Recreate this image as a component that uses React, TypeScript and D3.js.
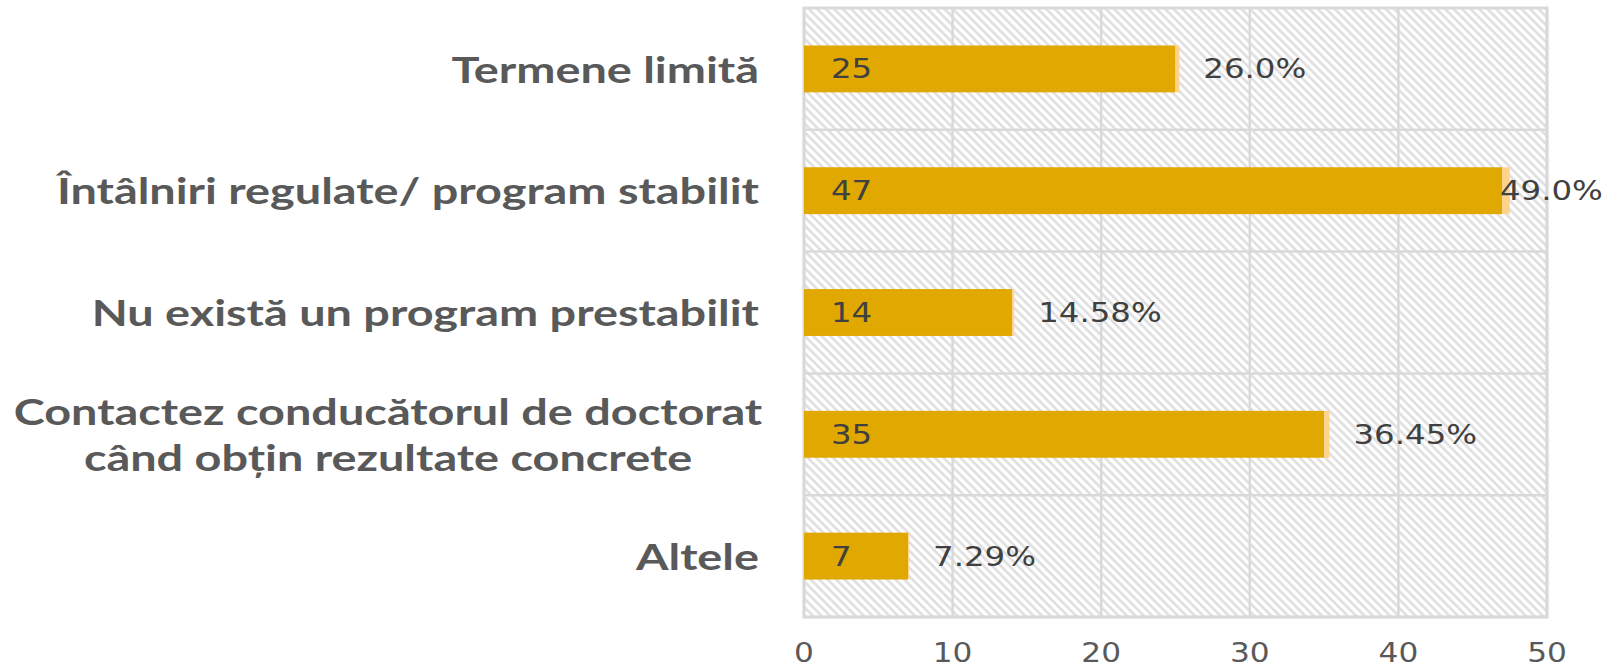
import React from "react";
import * as d3 from "d3";

const categoryLines: string[][] = [
  ["Termene limită"],
  ["Întâlniri regulate/ program stabilit"],
  ["Nu există un program prestabilit"],
  ["Contactez conducătorul de doctorat", "când obțin rezultate concrete"],
  ["Altele"],
];
const categories = categoryLines.map((l) => l.join(" "));
const counts = [25, 47, 14, 35, 7];
const shares = [0.26, 0.49, 0.1458, 0.3645, 0.0729];
const shareLabels = ["26.0%", "49.0%", "14.58%", "36.45%", "7.29%"];
const xTicks = [0, 10, 20, 30, 40, 50];

const W = 1612;
const H = 670;
const M = { left: 804, right: 65, top: 8, bottom: 53 };

const GRID = "#D9D9D9";
const BAR = "#E0A800";
const BAR2 = "#FFD38C";
const LABEL = "#595959";
const VALUE = "#404040";

const CAT_FONT = "Lato, 'Open Sans', sans-serif";
const NUM_FONT = "'DejaVu Sans', 'Liberation Sans', sans-serif";
const CAT_SX = 1.3;
const NUM_SX = 1.2;

export default function App() {
  const x = d3.scaleLinear().domain([0, 50]).range([M.left, W - M.right]);
  const y = d3
    .scaleBand<string>()
    .domain(categories)
    .range([M.top, H - M.bottom])
    .padding(0);
  const bw = y.bandwidth();
  const barH = bw * 0.385;

  return (
    <svg
      width={W}
      height={H}
      style={{ position: "absolute", left: 0, top: 0, background: "#fff" }}
    >
      <defs>
        <pattern
          id="hatch"
          width={6}
          height={6}
          patternUnits="userSpaceOnUse"
          patternTransform="rotate(-45)"
        >
          <rect width={6} height={6} fill="#fff" />
          <line x1={1.5} y1={0} x2={1.5} y2={6} stroke="#DCDCDC" strokeWidth={2.4} />
        </pattern>
      </defs>
      <rect
        x={M.left}
        y={M.top}
        width={W - M.right - M.left}
        height={H - M.bottom - M.top}
        fill="url(#hatch)"
      />
      {xTicks.map((t) => (
        <line
          key={"v" + t}
          x1={x(t)}
          x2={x(t)}
          y1={M.top}
          y2={H - M.bottom}
          stroke={GRID}
          strokeWidth={2.5}
        />
      ))}
      {categories.map((c, i) => (
        <line
          key={"h" + i}
          x1={M.left}
          x2={W - M.right}
          y1={(y(c) as number) + bw}
          y2={(y(c) as number) + bw}
          stroke={GRID}
          strokeWidth={2.5}
        />
      ))}
      <rect
        x={M.left}
        y={M.top}
        width={W - M.right - M.left}
        height={H - M.bottom - M.top}
        fill="none"
        stroke={GRID}
        strokeWidth={3}
      />
      {categories.map((c, i) => {
        const cy = (y(c) as number) + bw / 2;
        const x0 = x(0);
        const x1 = x(counts[i]);
        const x2 = x(counts[i] + shares[i]);
        const px = Math.min(x2 + 24, W - 112);
        return (
          <g key={"b" + i}>
            <rect x={x0} y={cy - barH / 2} width={x1 - x0} height={barH} fill={BAR} />
            <rect x={x1} y={cy - barH / 2} width={x2 - x1} height={barH} fill={BAR2} />
            <text
              transform={`translate(${x0 + 27},${cy}) scale(${NUM_SX},1)`}
              dominantBaseline="central"
              fontFamily={NUM_FONT}
              fontSize={27}
              fill={VALUE}
            >
              {counts[i]}
            </text>
            <text
              transform={`translate(${px},${cy}) scale(${NUM_SX},1)`}
              dominantBaseline="central"
              fontFamily={NUM_FONT}
              fontSize={27}
              fill={VALUE}
            >
              {shareLabels[i]}
            </text>
          </g>
        );
      })}
      {categoryLines.map((lines, i) => {
        const cy = (y(categories[i]) as number) + bw / 2;
        const lh = 46;
        if (lines.length === 1) {
          return (
            <text
              key={"c" + i}
              transform={`translate(759,${cy}) scale(${CAT_SX},1)`}
              textAnchor="end"
              dominantBaseline="central"
              fontFamily={CAT_FONT}
              fontWeight={700}
              fontSize={36}
              fill={LABEL}
            >
              {lines[0]}
            </text>
          );
        }
        return (
          <g key={"c" + i}>
            {lines.map((ln, j) => (
              <text
                key={j}
                transform={`translate(388,${cy + (j - (lines.length - 1) / 2) * lh}) scale(${CAT_SX},1)`}
                textAnchor="middle"
                dominantBaseline="central"
                fontFamily={CAT_FONT}
                fontWeight={700}
                fontSize={36}
                fill={LABEL}
              >
                {ln}
              </text>
            ))}
          </g>
        );
      })}
      {xTicks.map((t) => (
        <text
          key={"t" + t}
          transform={`translate(${x(t)},${653}) scale(${NUM_SX},1)`}
          textAnchor="middle"
          dominantBaseline="central"
          fontFamily={NUM_FONT}
          fontSize={26}
          fill={LABEL}
        >
          {t}
        </text>
      ))}
    </svg>
  );
}
